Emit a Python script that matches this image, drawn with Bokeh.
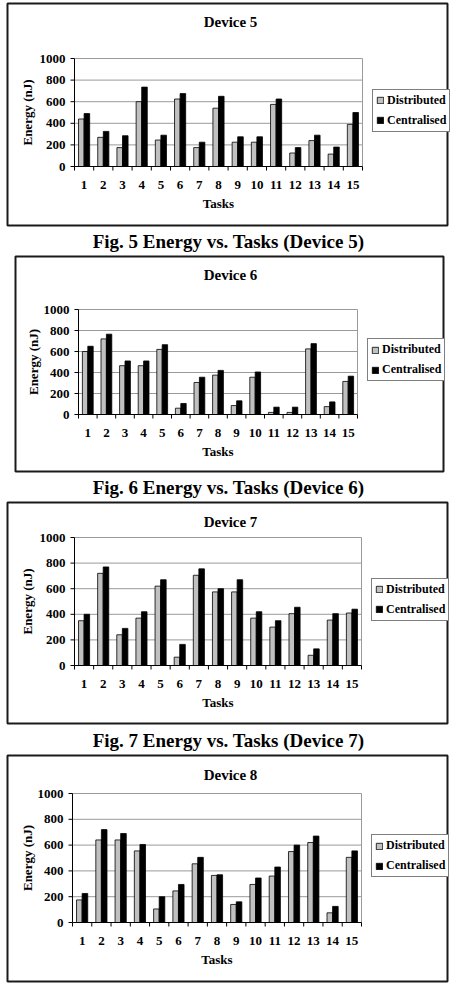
from math import pi

from bokeh.plotting import figure
from bokeh.models import ColumnDataSource, Legend, LegendItem, Range1d
from bokeh.core.properties import value
from bokeh.transform import dodge
from bokeh.embed import file_html
from bokeh.resources import INLINE

# ---- data: energy (nJ) per task, distributed vs centralised scheduling ----
tasks = list(range(1, 16))
y_ticks = [0, 200, 400, 600, 800, 1000]

dev5_distributed = [440, 270, 175, 600, 245, 625, 175, 540, 225, 225, 575, 125, 240, 115, 390]
dev5_centralised = [490, 325, 285, 735, 290, 675, 225, 650, 275, 275, 625, 175, 290, 180, 500]

dev6_distributed = [600, 720, 465, 465, 620, 60, 305, 375, 85, 355, 20, 20, 625, 75, 315]
dev6_centralised = [650, 765, 510, 510, 665, 105, 355, 420, 130, 405, 70, 70, 675, 120, 365]

dev7_distributed = [350, 720, 240, 370, 620, 65, 705, 575, 575, 370, 300, 405, 80, 355, 410]
dev7_centralised = [400, 770, 290, 420, 670, 165, 755, 600, 670, 420, 350, 455, 130, 405, 440]

dev8_distributed = [175, 640, 640, 555, 105, 245, 455, 365, 140, 295, 360, 550, 620, 75, 505]
dev8_centralised = [225, 720, 690, 605, 200, 295, 505, 370, 160, 345, 430, 600, 670, 125, 555]

series_labels = ["Distributed", "Centralised"]
captions = {
    5: "Fig. 5 Energy vs. Tasks (Device 5)",
    6: "Fig. 6 Energy vs. Tasks (Device 6)",
    7: "Fig. 7 Energy vs. Tasks (Device 7)",
}

# ---- page layout (pixels from the page's top-left corner) ----
PAGE_W, PAGE_H = 455, 990
SERIF = "Liberation Serif"
GREY = "#c0c0c0"
GRID = "#9a9a9a"

panels = [
    dict(device=5, dist=dev5_distributed, cent=dev5_centralised,
         box=(7, 3, 447, 225), frame=(74, 58, 362, 166), title_y=21, caption_y=241, ylabel_x=27),
    dict(device=6, dist=dev6_distributed, cent=dev6_centralised,
         box=(15, 256, 443, 471), frame=(78, 309, 357, 414), title_y=274, caption_y=487, ylabel_x=33),
    dict(device=7, dist=dev7_distributed, cent=dev7_centralised,
         box=(7, 502, 447, 723), frame=(74, 537, 361, 665), title_y=521, caption_y=740, ylabel_x=27),
    dict(device=8, dist=dev8_distributed, cent=dev8_centralised,
         box=(7, 755, 447, 981), frame=(72, 793, 361, 922), title_y=774, caption_y=None, ylabel_x=27),
]

# one canvas for the whole page; the default ranges are page pixels (y down)
p = figure(width=PAGE_W, height=PAGE_H,
           x_range=Range1d(0, PAGE_W), y_range=Range1d(PAGE_H, 0),
           output_backend="svg", toolbar_location=None,
           x_axis_location=None, y_axis_location=None, min_border=0,
           background_fill_color="white", border_fill_color="white")
p.outline_line_color = None
p.grid.visible = False

font = dict(text_font=value(SERIF), text_font_style="bold", text_color="black")

extra_x, extra_y = {}, {}
for cfg in panels:
    fl, ft, fr, fb = cfg["frame"]
    xn, yn = f"x{cfg['device']}", f"y{cfg['device']}"
    # each chart gets its own task / energy scales, laid over its plot area
    xs = 15 / (fr - fl)            # task units per pixel
    ys = 1000 / (fb - ft)          # nJ per pixel
    extra_x[xn] = Range1d(0.5 - fl * xs, 0.5 + (PAGE_W - fl) * xs)
    extra_y[yn] = Range1d(-(PAGE_H - fb) * ys, 1000 + ft * ys)
    cfg.update(xn=xn, yn=yn, xs=xs, ys=ys)
p.extra_x_ranges = extra_x
p.extra_y_ranges = extra_y

for cfg in panels:
    fl, ft, fr, fb = cfg["frame"]
    bl, bt, br, bb = cfg["box"]
    rn = dict(x_range_name=cfg["xn"], y_range_name=cfg["yn"])
    xs, ys = cfg["xs"], cfg["ys"]

    # horizontal gridlines and the grey plot-area border on the right
    p.segment(x0=0.5, x1=15.5, y0=y_ticks[1:], y1=y_ticks[1:],
              line_color=GRID, line_width=1, **rn)
    p.segment(x0=15.5, x1=15.5, y0=0, y1=1000, line_color=GRID, line_width=1, **rn)

    # bars
    src = ColumnDataSource(dict(task=tasks, dist=cfg["dist"], cent=cfg["cent"]))
    r_d = p.vbar(x=dodge("task", -0.145), top="dist", bottom=0, width=0.29, source=src,
                 fill_color=GREY, line_color="black", line_width=0.8, **rn)
    r_c = p.vbar(x=dodge("task", 0.145), top="cent", bottom=0, width=0.29, source=src,
                 fill_color="black", line_color="black", line_width=0.8, **rn)

    # axis lines
    p.segment(x0=0.5, x1=0.5, y0=0, y1=1000, line_color="black", line_width=1, **rn)
    p.segment(x0=0.5, x1=15.5, y0=0, y1=0, line_color="black", line_width=1, **rn)

    # y ticks (outward, 4 px) and x ticks between the task categories
    p.segment(x0=0.5 - 4 * xs, x1=0.5, y0=y_ticks, y1=y_ticks,
              line_color="black", line_width=1, **rn)
    bounds = [t - 0.5 for t in tasks] + [tasks[-1] + 0.5]
    p.segment(x0=bounds, x1=bounds, y0=0, y1=-4 * ys,
              line_color="black", line_width=1, **rn)

    # tick labels
    p.text(x=0.5, y=y_ticks, text=[str(v) for v in y_ticks], x_offset=-9,
           text_align="right", text_baseline="middle", text_font_size="13px", **font, **rn)
    p.text(x=tasks, y=0, text=[str(t) for t in tasks], y_offset=18,
           text_align="center", text_baseline="middle", text_font_size="13px", **font, **rn)

    # axis titles
    p.text(x=8, y=0, text=["Tasks"], y_offset=37, text_align="center",
           text_baseline="middle", text_font_size="13px", **font, **rn)
    p.text(x=0.5, y=500, text=["Energy (nJ)"], angle=pi / 2, x_offset=-(fl - cfg["ylabel_x"]),
           text_align="center", text_baseline="middle", text_font_size="13px", **font, **rn)

    # chart title
    p.text(x=230, y=cfg["title_y"], text=[f"Device {cfg['device']}"], text_align="center",
           text_baseline="middle", text_font_size="15px", **font)

    # enclosing box
    p.quad(left=bl, right=br, top=bt, bottom=bb, fill_color=None,
           line_color="#1a1a1a", line_width=2)

    # figure caption under the box
    if cfg["caption_y"] is not None:
        p.text(x=228, y=cfg["caption_y"], text=[captions[cfg["device"]]], text_align="center",
               text_baseline="middle", text_font_size="19px", **font)

    # legend, vertically centred on the plot area, 10 px right of it
    legend_h = 2 * 14 + 5 + 2 * 3
    legend_bottom = (ft + fb) / 2 + legend_h / 2
    legend = Legend(items=[LegendItem(label=series_labels[0], renderers=[r_d]),
                           LegendItem(label=series_labels[1], renderers=[r_c])],
                    location=(fr + 10, PAGE_H - legend_bottom),
                    padding=3, spacing=5, margin=0,
                    glyph_width=8, glyph_height=8, label_standoff=3, label_height=14,
                    label_text_font=SERIF, label_text_font_style="bold",
                    label_text_font_size="12px", label_text_color="black",
                    border_line_color="black", border_line_width=1.5,
                    background_fill_color="white", background_fill_alpha=1)
    p.add_layout(legend)

open("out.html", "w").write(file_html(p, INLINE))
